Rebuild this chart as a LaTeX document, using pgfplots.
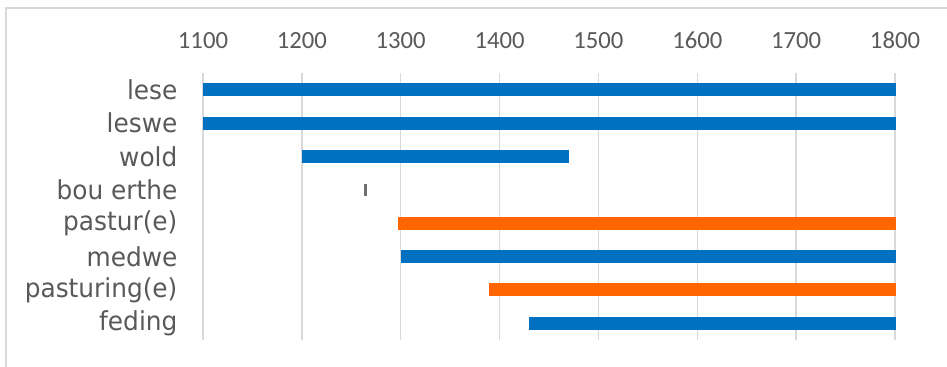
\documentclass[border=0pt]{standalone}
\usepackage{fontspec}
\setmainfont{DejaVu Sans}
\newfontfamily\tickfont{Carlito}
\newfontfamily\labelfont[FakeStretch=0.95]{DejaVu Sans}
\usepackage{pgfplots}
\pgfplotsset{compat=1.18}
\definecolor{barblue}{HTML}{0070C0}
\definecolor{barorange}{HTML}{FF6600}
\definecolor{bargray}{HTML}{707070}
\definecolor{gridgray}{HTML}{D9D9D9}
\definecolor{labelgray}{HTML}{595959}
\begin{document}
\begin{tikzpicture}[x=1pt,y=1pt]
% frame lines of the chart area
\path[use as bounding box] (-152.25,-20.25) rectangle (558,255);
\draw[gridgray, line width=1.1pt] (-147.75,-20.25) -- (-147.75,249) -- (558,249);
\begin{axis}[
  at={(0,0)}, anchor=south west,
  scale only axis,
  width=519pt, height=200.25pt,
  xmin=1100, xmax=1800,
  ymin=-0.5, ymax=7.5,
  y dir=reverse,
  xtick={1100,1200,...,1800},
  ytick={0,...,7},
  yticklabels={lese,leswe,wold,bou erthe,pastur(e),medwe,pasturing(e),feding},
  xticklabel pos=upper,
  xmajorgrids,
  grid style={gridgray, line width=1.1pt},
  axis line style={draw=none},
  major tick length=0pt,
  clip=false,
  /pgf/number format/1000 sep={},
  /pgf/number format/assume math mode=true,
  xticklabel style={font=\tickfont\fontsize{18.5}{20}\selectfont, text=labelgray, inner sep=0pt, anchor=base, yshift=18.5pt},
  yticklabel style={font=\labelfont\fontsize{19.6}{22}\selectfont, text=labelgray, inner sep=0pt, anchor=east, xshift=-19pt},
  every axis plot/.append style={line width=9.75pt, line cap=butt, mark=none},
]
\addplot[barblue]   coordinates {(1100,0) (1801,0)};
\addplot[barblue]   coordinates {(1100,1) (1801,1)};
\addplot[barblue]   coordinates {(1200,2) (1470,2)};
\addplot[bargray, line width=9pt]  coordinates {(1263,3) (1265.5,3)};
\addplot[barorange] coordinates {(1297,4) (1801,4)};
\addplot[barblue]   coordinates {(1300,5) (1801,5)};
\addplot[barorange] coordinates {(1389,6) (1801,6)};
\addplot[barblue]   coordinates {(1430,7) (1801,7)};
\end{axis}
\end{tikzpicture}
\end{document}
